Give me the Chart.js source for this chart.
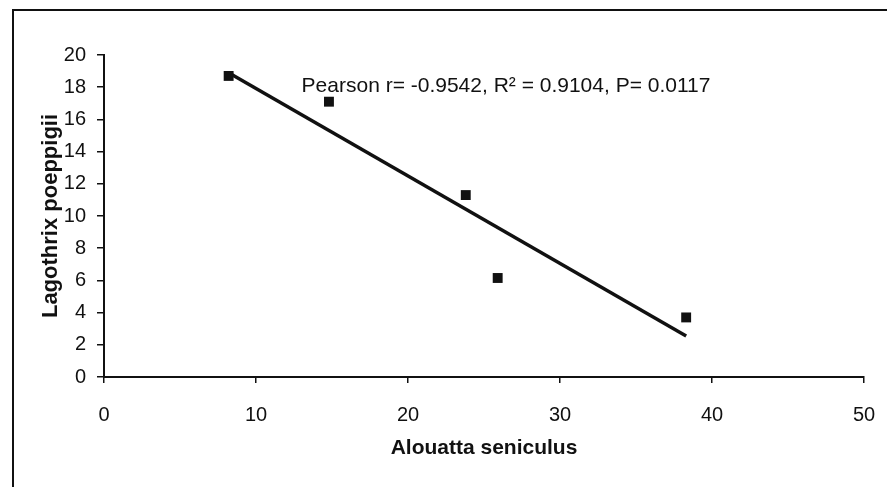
<!DOCTYPE html>
<html>
<head>
<meta charset="utf-8">
<script src="https://cdn.jsdelivr.net/npm/chart.js@4"></script>
<style>
  html, body { margin: 0; padding: 0; background: #fff; }
  #wrap { width: 887px; height: 487px; }
</style>
</head>
<body>
<div id="wrap"><canvas id="myChart"></canvas></div>
<script>
const alouatta = [8.2, 14.8, 23.8, 25.9, 38.3];
const lagothrix = [18.7, 17.1, 11.3, 6.15, 3.7];
const trendX = [8.2, 38.3];
const trendY = [18.9, 2.55];
const statsText = 'Pearson r= -0.9542, R\u00B2 = 0.9104, P= 0.0117';

const points = alouatta.map((x, i) => ({ x: x, y: lagothrix[i] }));
const trend = trendX.map((x, i) => ({ x: x, y: trendY[i] }));

const frame = {
    id: 'frame',
    beforeDraw(chart) {
        const ctx = chart.ctx;
        ctx.save();
        ctx.fillStyle = '#fff';
        ctx.fillRect(0, 0, chart.width, chart.height);
        ctx.strokeStyle = '#111';
        ctx.lineWidth = 2;
        ctx.beginPath();
        ctx.moveTo(13, chart.height);
        ctx.lineTo(13, 10);
        ctx.lineTo(chart.width, 10);
        ctx.stroke();
        ctx.restore();
    },
    afterDraw(chart) {
        // stats label, placed in data units
        const ctx = chart.ctx;
        const x = chart.scales.x.getPixelForValue(13);
        const y = chart.scales.y.getPixelForValue(17.7);
        ctx.save();
        ctx.fillStyle = '#111';
        ctx.font = '21px "Liberation Sans", Arial, sans-serif';
        ctx.textBaseline = 'alphabetic';
        ctx.fillText(statsText, x, y);
        ctx.restore();
    }
};

const font = { family: '"Liberation Sans", Arial, sans-serif', size: 20 };

const config = {
    type: 'scatter',
    data: {
        datasets: [{
            data: points,
            pointStyle: 'rect',
            pointRadius: 7,
            pointHoverRadius: 7,
            backgroundColor: '#111',
            borderColor: '#111',
            borderWidth: 0,
        }, {
            type: 'line',
            data: trend,
            showLine: true,
            pointRadius: 0,
            borderColor: '#111',
            borderWidth: 3.5,
            fill: false,
        }]
    },
    options: {
        responsive: true,
        maintainAspectRatio: false,
        animation: false,
        layout: { padding: { left: 0, top: 55, right: 23, bottom: 0 } },
        plugins: {
            legend: { display: false },
            tooltip: { enabled: false },
        },
        scales: {
            x: {
                type: 'linear',
                min: 0, max: 50,
                ticks: { stepSize: 10, color: '#111', font: font, padding: 20 },
                grid: { drawOnChartArea: false, tickLength: 6, color: '#111', lineWidth: 1.5 },
                border: { color: '#111', width: 2 },
                title: {
                    display: true, text: 'Alouatta seniculus', color: '#111',
                    font: { family: '"Liberation Sans", Arial, sans-serif', size: 21, weight: 'bold' },
                    padding: { top: 0, bottom: 26 }
                },
                afterFit(scale) { scale.height = 110; scale.paddingRight = 0; scale.paddingLeft = 0; }
            },
            y: {
                min: 0, max: 20,
                ticks: { stepSize: 2, color: '#111', font: font, padding: 11 },
                grid: { drawOnChartArea: false, tickLength: 7, color: '#111', lineWidth: 1.5 },
                border: { color: '#111', width: 2 },
                title: {
                    display: true, text: 'Lagothrix poeppigii', color: '#111',
                    font: { family: '"Liberation Sans", Arial, sans-serif', size: 22, weight: 'bold' },
                    padding: { top: 38, bottom: 0 }
                },
                afterFit(scale) { scale.width = 104; scale.paddingTop = 0; scale.paddingBottom = 0; }
            }
        }
    },
    plugins: [frame]
};

const myChart = new Chart(document.getElementById('myChart'), config);
</script>
</body>
</html>
